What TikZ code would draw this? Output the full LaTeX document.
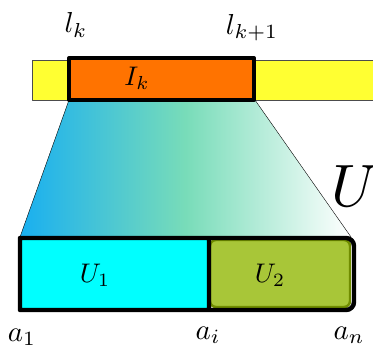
\documentclass[tikz,border=0pt]{standalone}
\usepackage{amsmath}
\usepackage{tikz}
\usetikzlibrary{calc}

\definecolor{barYellow}{RGB}{255,255,50}
\definecolor{boxOrange}{RGB}{255,115,0}
\definecolor{partCyan}{RGB}{0,255,255}
\definecolor{shadeBlue}{RGB}{25,175,240}
\definecolor{shadeGreen}{RGB}{120,220,185}
\definecolor{partGreen}{RGB}{168,198,56}
\definecolor{partOlive}{RGB}{112,140,0}

\tikzset{
    lbl/.style={scale=2.9, inner sep=0pt},
    sublbl/.style={scale=2.7, inner sep=0pt},
    biglbl/.style={scale=6, inner sep=0pt},
}

\begin{document}
\begin{tikzpicture}[x=1bp, y=-1bp, line join=round]

    \useasboundingbox (0,0) rectangle (373,353);

    % corners of the interval I_k and of the lower block
    \coordinate (Itl) at (69, 58);
    \coordinate (Ibr) at (254, 100);
    \coordinate (Btl) at (20, 238);
    \coordinate (Bmid) at (209, 238);

    % yellow bar behind the interval
    \draw[fill=barYellow, draw=black!70, thin] (32, 60) rectangle (375, 100);

    % projection of I_k down to U
    \shade[left color=shadeBlue, right color=white, middle color=shadeGreen]
        (69, 100) -- (255, 100) -- (351, 237) -- (20, 237) -- cycle;
    \draw[thin] (69, 100) -- (20, 237);
    \draw[thin] (255, 100) -- (351, 237);

    % the interval I_k
    \draw[fill=boxOrange, line width=4pt] (Itl) rectangle (Ibr);

    % lower block: U_1 and U_2
    \fill[partCyan] (Btl) rectangle (209, 310);
    \draw[fill=partGreen, draw=partOlive, line width=2.5pt, rounded corners=6]
        (210, 240) rectangle (350, 307);
    \draw[line width=4.5pt] (Bmid) -- (20, 238) -- (20, 310) -- (300, 310)
        [rounded corners=8] -- (354, 310) -- (354, 238) -- (300, 238)
        [sharp corners] -- (Bmid) -- (209, 310);

    % labels
    \node[lbl]    (lk)   at (76, 25)  {$l_k$};
    \node[lbl]    (lkk)  at (252, 28) {$l_{k+1}$};
    \node[sublbl] (Ik)   at (137, 78) {$I_k$};
    \node[biglbl] (U)    at (355, 186) {$U$};
    \node[sublbl] (Uone) at (95, 275) {$U_1$};
    \node[sublbl] (Utwo) at (270, 275) {$U_2$};
    \node[lbl]    (aone) at (22, 337) {$a_1$};
    \node[lbl]    (ai)   at (208, 335) {$a_i$};
    \node[lbl]    (an)   at (349, 335) {$a_n$};

\end{tikzpicture}
\end{document}
